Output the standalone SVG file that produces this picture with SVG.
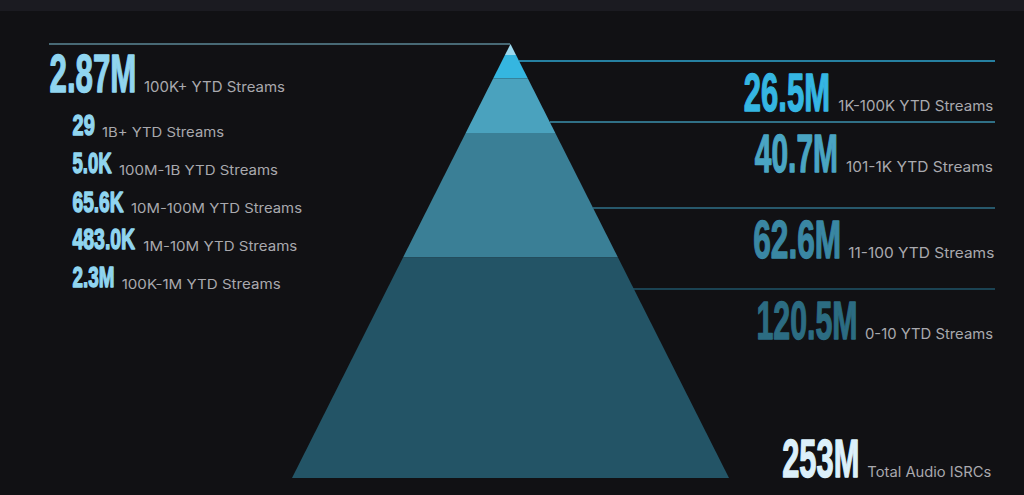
<svg xmlns="http://www.w3.org/2000/svg" width="1024" height="495" viewBox="0 0 1024 495">
<style>
.num{font-family:"Liberation Sans",Arial,sans-serif;font-weight:bold;stroke-width:1.4;stroke-linejoin:round}
.big{font-size:53px}
.sm{font-size:29px}
.lbl{font-family:Inter,"Liberation Sans",Arial,sans-serif;font-size:14px;fill:#a9a9ae}
.lbl2{font-family:Inter,"Liberation Sans",Arial,sans-serif;font-size:13px;fill:#a9a9ae}
.lt{fill:#90d5f0;stroke:#90d5f0}
.ln{fill:none;stroke-width:1.5}
</style>
<rect x="0" y="0" width="1024" height="495" fill="#111114"/>
<rect x="0" y="0" width="1024" height="11" fill="#1b1b21"/>
<g id="pyramid">
<polygon points="510.5,44 516.04,55 504.96,55" fill="#9bd9ef"/>
<polygon points="504.96,55 516.04,55 527.87,78.5 493.13,78.5" fill="#35b6e0"/>
<polygon points="493.13,78.5 527.87,78.5 555.31,133 465.69,133" fill="#4aa2be"/>
<polygon points="465.69,133 555.31,133 618,257.5 403,257.5" fill="#3a7f96"/>
<polygon points="403,257.5 618,257.5 729,478 292,478" fill="#235466"/>
</g>
<g id="connectors">
<line class="ln" x1="49" y1="44" x2="510" y2="44" stroke="#5b8796"/>
<line class="ln" x1="519" y1="61" x2="995" y2="61" stroke="#2ea6d0"/>
<line class="ln" x1="550" y1="122" x2="995" y2="122" stroke="#3b90ad"/>
<line class="ln" x1="593" y1="208" x2="995" y2="208" stroke="#2f7189"/>
<line class="ln" x1="633" y1="289" x2="995" y2="289" stroke="#1f5569"/>
</g>
<g id="top-left">
<text class="num big lt" transform="translate(49.5,92) scale(0.59,1)">2.87M</text>
<text class="lbl" x="144" y="92" textLength="141" lengthAdjust="spacingAndGlyphs">100K+ YTD Streams</text>
</g>
<g id="left-1b">
<text class="num sm lt" transform="translate(72.5,135) scale(0.69,1)">29</text>
<text class="lbl2" x="102" y="136.5" textLength="122" lengthAdjust="spacingAndGlyphs">1B+ YTD Streams</text>
</g>
<g id="left-100m">
<text class="num sm lt" transform="translate(72.5,173) scale(0.64,1)">5.0K</text>
<text class="lbl2" x="119" y="175" textLength="159" lengthAdjust="spacingAndGlyphs">100M-1B YTD Streams</text>
</g>
<g id="left-10m">
<text class="num sm lt" transform="translate(72.5,211.5) scale(0.66,1)">65.6K</text>
<text class="lbl2" x="131" y="213" textLength="171" lengthAdjust="spacingAndGlyphs">10M-100M YTD Streams</text>
</g>
<g id="left-1m">
<text class="num sm lt" transform="translate(72.5,249.3) scale(0.67,1)">483.0K</text>
<text class="lbl2" x="143.3" y="251" textLength="154" lengthAdjust="spacingAndGlyphs">1M-10M YTD Streams</text>
</g>
<g id="left-100k">
<text class="num sm lt" transform="translate(72.5,287.3) scale(0.65,1)">2.3M</text>
<text class="lbl2" x="121.7" y="289" textLength="159" lengthAdjust="spacingAndGlyphs">100K-1M YTD Streams</text>
</g>
<g id="right-1k">
<text class="num big" transform="translate(743.8,111) scale(0.585,1)" fill="#35b6e2" stroke="#35b6e2">26.5M</text>
<text class="lbl" x="838.3" y="110.7" textLength="155" lengthAdjust="spacingAndGlyphs">1K-100K YTD Streams</text>
</g>
<g id="right-101">
<text class="num big" transform="translate(754.8,171.7) scale(0.565,1)" fill="#4aa5c3" stroke="#4aa5c3">40.7M</text>
<text class="lbl" x="846" y="172" textLength="147" lengthAdjust="spacingAndGlyphs">101-1K YTD Streams</text>
</g>
<g id="right-11">
<text class="num big" transform="translate(753.2,257.7) scale(0.598,1)" fill="#3a87a3" stroke="#3a87a3">62.6M</text>
<text class="lbl" x="848.3" y="257.7" textLength="146" lengthAdjust="spacingAndGlyphs">11-100 YTD Streams</text>
</g>
<g id="right-0">
<text class="num big" transform="translate(756.5,339.3) scale(0.572,1)" fill="#2c6c82" stroke="#2c6c82">120.5M</text>
<text class="lbl" x="865" y="339.3" textLength="128" lengthAdjust="spacingAndGlyphs">0-10 YTD Streams</text>
</g>
<g id="total">
<text class="num big" transform="translate(782.2,476.7) scale(0.582,1)" fill="#dcf0fa" stroke="#dcf0fa">253M</text>
<text class="lbl" x="867.3" y="476.7" textLength="124" lengthAdjust="spacingAndGlyphs">Total Audio ISRCs</text>
</g>
</svg>
